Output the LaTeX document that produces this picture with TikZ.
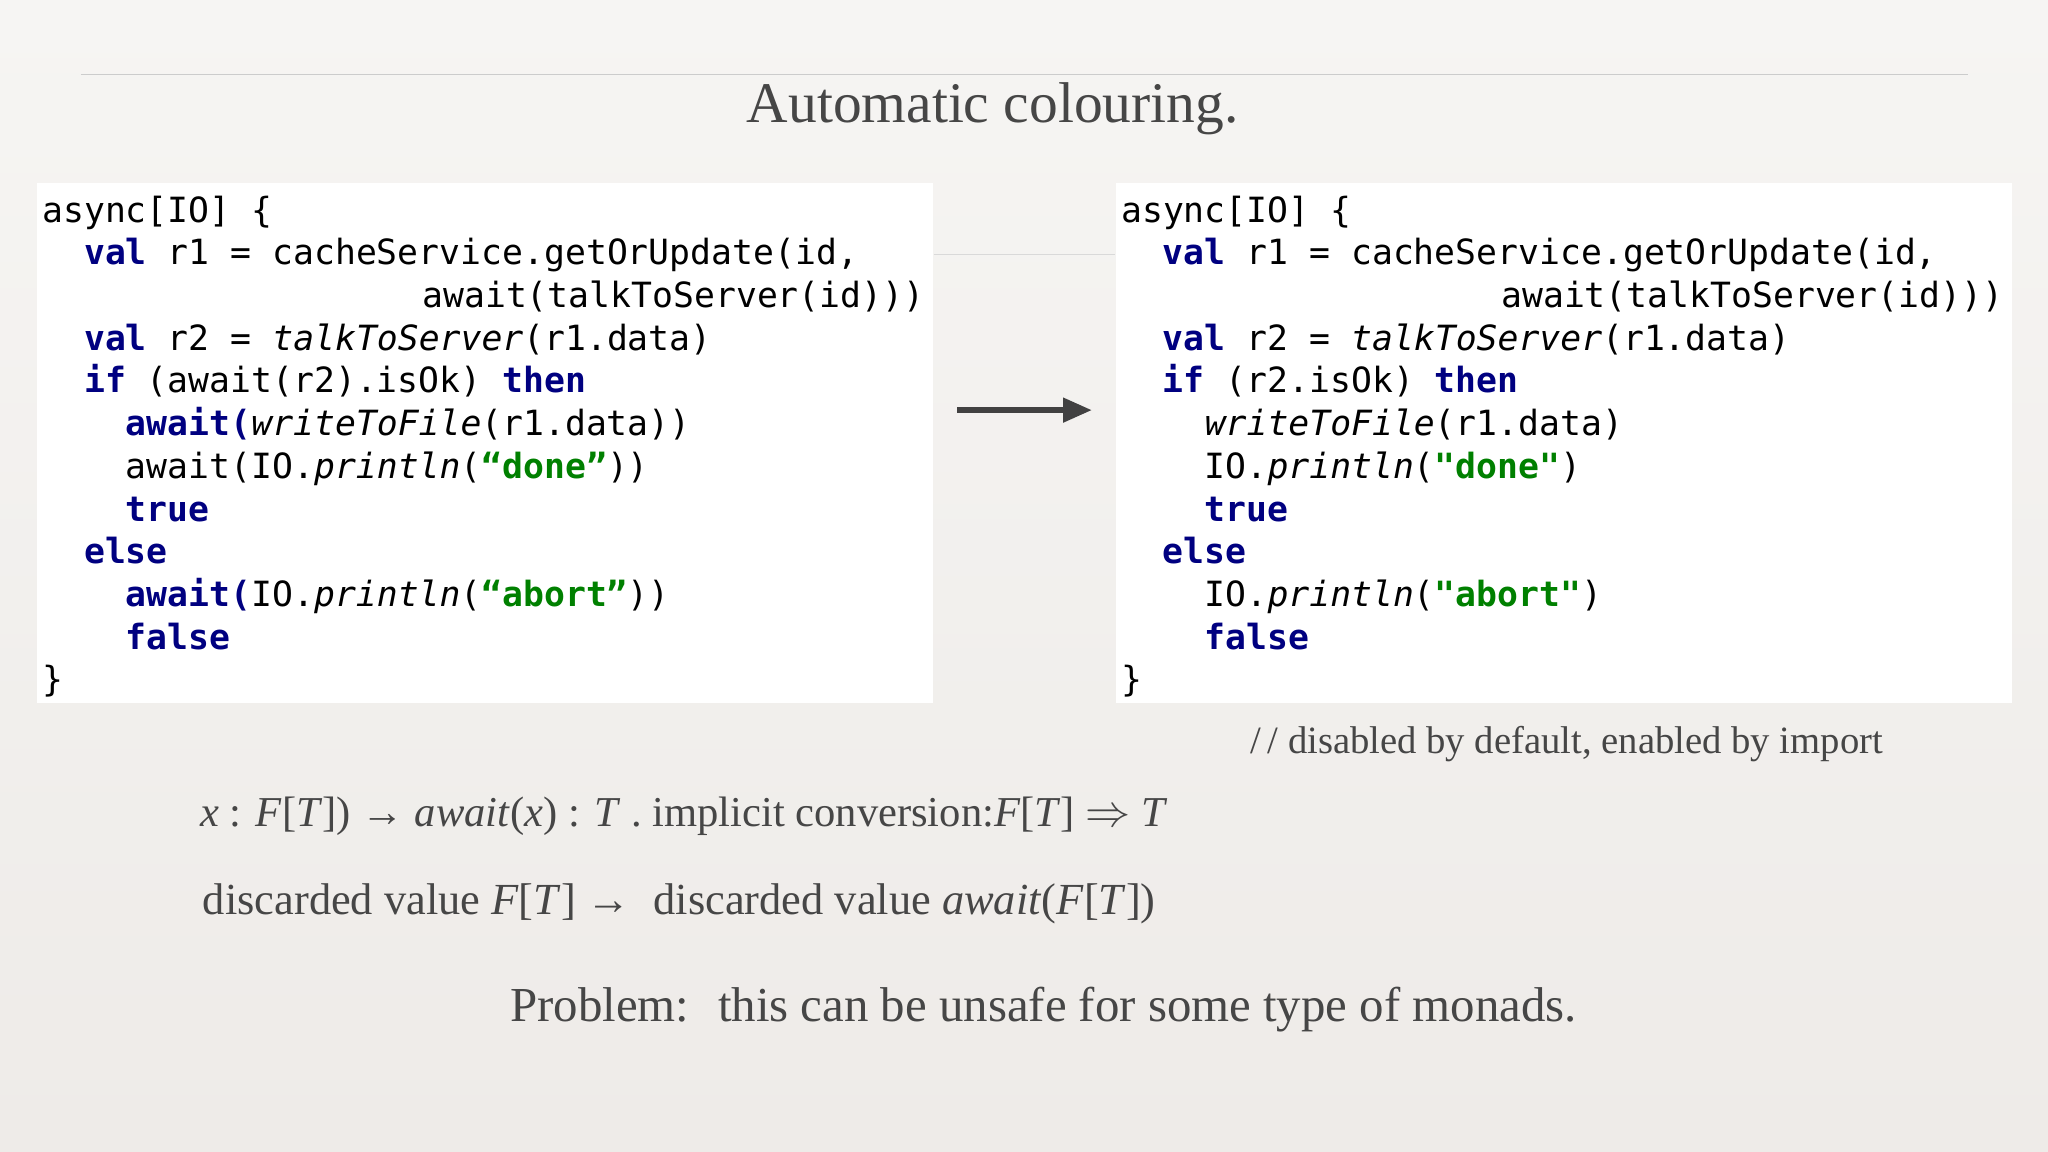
\documentclass[tikz,border=0pt]{standalone}
\usetikzlibrary{arrows.meta}
\usepackage{fontspec}
\setmainfont{Liberation Serif}
\setmonofont{DejaVu Sans Mono}
\definecolor{kwc}{RGB}{0,0,128}
\definecolor{strc}{RGB}{0,128,0}
\definecolor{txt}{RGB}{70,70,70}
\definecolor{arr}{RGB}{65,65,65}
\newcommand{\kw}[1]{{\bfseries\color{kwc}#1}}
\newcommand{\sq}[1]{{\bfseries\color{strc}#1}}
\newcommand{\fn}[1]{{\itshape #1}}
\tikzset{
  code/.style={anchor=base west,inner sep=0pt,font=\ttfamily\fontsize{13.3}{16}\selectfont},
  box/.style={fill=white,draw=none},
  prose/.style={text=txt,inner sep=0pt}
}
\begin{document}
\begin{tikzpicture}[x=0.5pt,y=-0.5pt]
\shade[top color={rgb,255:red,246;green,245;blue,243},bottom color={rgb,255:red,238;green,235;blue,232}] (0,0) rectangle (1568,882);
\useasboundingbox (0,0) rectangle (1568,882);
\draw[gray!40,line width=0.4pt] (62,57) -- (1507,57);
\node[prose,font=\fontsize{22}{25}\selectfont] (title) at (760,83) {Automatic colouring.};
\node[box,minimum width=343pt,minimum height=199pt,anchor=north west,inner sep=0pt] (L) at (28,140) {};
\node[box,minimum width=343pt,minimum height=199pt,anchor=north west,inner sep=0pt] (R) at (854,140) {};
\draw[gray!30,line width=0.4pt] (L.east |- 0,195) -- (R.west |- 0,195);
\coordinate (a1) at (733,314); \coordinate (a2) at (836,314);
\draw[-{Triangle[length=11pt,width=9pt]},line width=2.2pt,color=arr] (a1) -- (a2);
% left code
\def\ly#1{170+32.7*#1}
\node[code] (l0) at (32,{\ly0}) {async[IO] \{};
\node[code] (l1) at (64,{\ly1}) {\kw{val} r1 = cacheService.getOrUpdate(id,};
\node[code] (l2) at (323,{\ly2}) {await(talkToServer(id)))};
\node[code] (l3) at (64,{\ly3}) {\kw{val} r2 = \fn{talkToServer}(r1.data)};
\node[code] (l4) at (64,{\ly4}) {\kw{if} (await(r2).isOk) \kw{then}};
\node[code] (l5) at (96,{\ly5}) {\kw{await(}\fn{writeToFile}(r1.data))};
\node[code] (l6) at (96,{\ly6}) {await(IO.\fn{println}(\sq{“done”}))};
\node[code] (l7) at (96,{\ly7}) {\kw{true}};
\node[code] (l8) at (64,{\ly8}) {\kw{else}};
\node[code] (l9) at (96,{\ly9}) {\kw{await(}IO.\fn{println}(\sq{“abort”}))};
\node[code] (l10) at (96,{\ly10}) {\kw{false}};
\node[code] (l11) at (32,{\ly11}) {\}};
% right code
\node[code] (r0) at (858,{\ly0}) {async[IO] \{};
\node[code] (r1) at (890,{\ly1}) {\kw{val} r1 = cacheService.getOrUpdate(id,};
\node[code] (r2) at (1149,{\ly2}) {await(talkToServer(id)))};
\node[code] (r3) at (890,{\ly3}) {\kw{val} r2 = \fn{talkToServer}(r1.data)};
\node[code] (r4) at (890,{\ly4}) {\kw{if} (r2.isOk) \kw{then}};
\node[code] (r5) at (922,{\ly5}) {\fn{writeToFile}(r1.data)};
\node[code] (r6) at (922,{\ly6}) {IO.\fn{println}(\sq{"done"})};
\node[code] (r7) at (922,{\ly7}) {\kw{true}};
\node[code] (r8) at (890,{\ly8}) {\kw{else}};
\node[code] (r9) at (922,{\ly9}) {IO.\fn{println}(\sq{"abort"})};
\node[code] (r10) at (922,{\ly10}) {\kw{false}};
\node[code] (r11) at (858,{\ly11}) {\}};
% prose
\node[prose,anchor=west,font=\fontsize{14.8}{17}\selectfont] (cm) at (957,570) {/\,/ disabled by default, enabled by import};
\node[prose,anchor=west,font=\fontsize{16.3}{19}\selectfont] (m1) at (153,625) {\textit{x} : \textit{F}[\textit{T}]) → \textit{await}(\textit{x}) : \textit{T} . implicit conversion:\textit{F}[\textit{T}] $\Rightarrow$ \textit{T}};
\node[prose,anchor=west,font=\fontsize{17}{20}\selectfont] (m2) at (155,692) {discarded value \textit{F}[\textit{T}] → \ discarded value \textit{await}(\textit{F}[\textit{T}])};
\node[prose,font=\fontsize{18.7}{21}\selectfont] (pb) at (799,773) {Problem: \ this can be unsafe for some type of monads.};
\end{tikzpicture}
\end{document}
